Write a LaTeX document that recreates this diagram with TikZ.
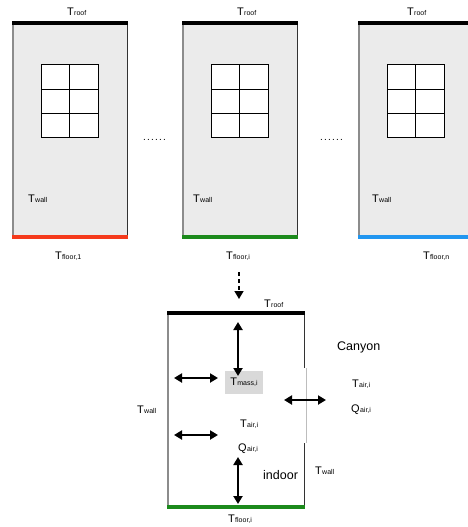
\documentclass[tikz,border=0pt]{standalone}
\usepackage{fontspec}
\setmainfont{Liberation Sans}
\usetikzlibrary{arrows.meta}
\definecolor{wallfill}{HTML}{EBEBEB}
\definecolor{massfill}{HTML}{D9D9D9}
\definecolor{floorred}{HTML}{F53A1C}
\definecolor{floorgreen}{HTML}{1C8A1C}
\definecolor{floorblue}{HTML}{2196F0}
\definecolor{wallgray}{HTML}{8C8C8C}
\definecolor{thingray}{HTML}{BDBDBD}
\newcommand{\Tsb}[2]{#1\kern0.3pt{\fontsize{7}{8}\selectfont #2}}
\newcommand{\sixdots}{.\kern1.2pt.\kern1.2pt.\kern1.2pt.\kern1.2pt.\kern1.2pt.}
\begin{document}
\begin{tikzpicture}[x=1pt,y=-1pt,
  lbl/.style={inner sep=0pt, font=\fontsize{11}{13}\selectfont, anchor=base west},
  big/.style={inner sep=0pt, font=\fontsize{12.5}{14}\selectfont, anchor=west},
  dotsnode/.style={inner sep=0pt, font=\fontsize{10}{12}\selectfont},
  dbl/.style={line width=2.2pt, {Triangle[length=8pt,width=9pt]}-{Triangle[length=8pt,width=9pt]}},
  heavy/.style={line width=3.4pt},
  leftwall/.style={draw=wallgray, line width=1.2pt},
  rightwall/.style={draw=black!80, line width=0.9pt},
  winframe/.style={draw=black, line width=1pt, fill=white},
  massbox/.style={fill=massfill, inner sep=0pt, minimum width=38pt, minimum height=23pt, font=\fontsize{11}{13}\selectfont}]
\useasboundingbox (0,0) rectangle (467,527);

% ---------- three buildings ----------
\foreach \L/\R/\fc in {13/127/floorred, 183/297/floorgreen, 359/470/floorblue}{
  \fill[wallfill] (\L,23) rectangle (\R,237);
  \draw[leftwall] (\L,23) -- (\L,237);
  \draw[rightwall] (\R,23) -- (\R,237);
  \draw[heavy] (\L-1,23) -- (\R+1,23);
  \draw[heavy,draw=\fc] (\L-1,237) -- (\R+1,237);
  \draw[winframe] (\L+28,65) rectangle (\L+85,137);
  \draw[line width=1pt] (\L+28,89) -- (\L+85,89)
                         (\L+28,113) -- (\L+85,113)
                         (\L+56.5,65) -- (\L+56.5,137);
}

% labels of the buildings
\node[lbl] (roofA) at (67,16) {\Tsb{T}{roof}};
\node[lbl] (roofB) at (237,16) {\Tsb{T}{roof}};
\node[lbl] (roofC) at (407,16) {\Tsb{T}{roof}};
\node[lbl] (wallA) at (28,202) {\Tsb{T}{wall}};
\node[lbl] (wallB) at (193,202) {\Tsb{T}{wall}};
\node[lbl] (wallC) at (372,202) {\Tsb{T}{wall}};
\node[lbl] (floorA) at (55,259) {\Tsb{T}{floor,1}};
\node[lbl] (floorB) at (226,259) {\Tsb{T}{floor,i}};
\node[lbl] (floorC) at (423,259) {\Tsb{T}{floor,n}};
\node[dotsnode] (dotsA) at (154.5,140) {\sixdots};
\node[dotsnode] (dotsB) at (331.5,140) {\sixdots};

% ---------- dashed link to the detail ----------
\coordinate (linkS) at (239,272);
\coordinate (linkE) at (239,299);
\draw[line width=1.5pt, dash pattern=on 4pt off 3pt, -{Triangle[length=8pt,width=9pt]}] (linkS) -- (linkE);

% ---------- detail of floor i ----------
\draw[leftwall, line width=1.4pt] (168,313) -- (168,507);
\draw[rightwall] (304,313) -- (304,368);
\draw[draw=thingray, line width=0.6pt] (306,368) -- (306,443);
\draw[rightwall] (304,443) -- (304,507);
\draw[heavy] (167,313) -- (305,313);
\draw[heavy, draw=floorgreen] (167,507) -- (305,507);

\node[lbl] (roofD) at (264,307) {\Tsb{T}{roof}};
\node[massbox] (mass) at (244,382.5) {\Tsb{T}{mass,i}};
\node[lbl] (wallD) at (137,413) {\Tsb{T}{wall}};
\node[lbl] (airIn) at (240,427) {\Tsb{T}{air,i}};
\node[lbl] (qIn) at (238,451) {\Tsb{Q}{air,i}};
\node[big] (indoor) at (263,475) {indoor};
\node[lbl] (wallE) at (315,474) {\Tsb{T}{wall}};
\node[lbl] (floorD) at (228,522) {\Tsb{T}{floor,i}};
\node[big] (canyon) at (337,347) {Canyon};
\node[lbl] (airOut) at (352,387) {\Tsb{T}{air,i}};
\node[lbl] (qOut) at (351,412) {\Tsb{Q}{air,i}};

% exchange arrows
\coordinate (topA) at (238,322);
\coordinate (topB) at (238,376);
\coordinate (lA1) at (174,378);
\coordinate (lA2) at (218,378);
\coordinate (lB1) at (174,435);
\coordinate (lB2) at (218,435);
\coordinate (rA1) at (284,400);
\coordinate (rA2) at (326,400);
\coordinate (botA) at (238,457);
\coordinate (botB) at (238,504);
\draw[dbl] (topA) -- (topB);
\draw[dbl] (lA1) -- (lA2);
\draw[dbl] (lB1) -- (lB2);
\draw[dbl] (rA1) -- (rA2);
\draw[dbl] (botA) -- (botB);
\end{tikzpicture}
\end{document}
